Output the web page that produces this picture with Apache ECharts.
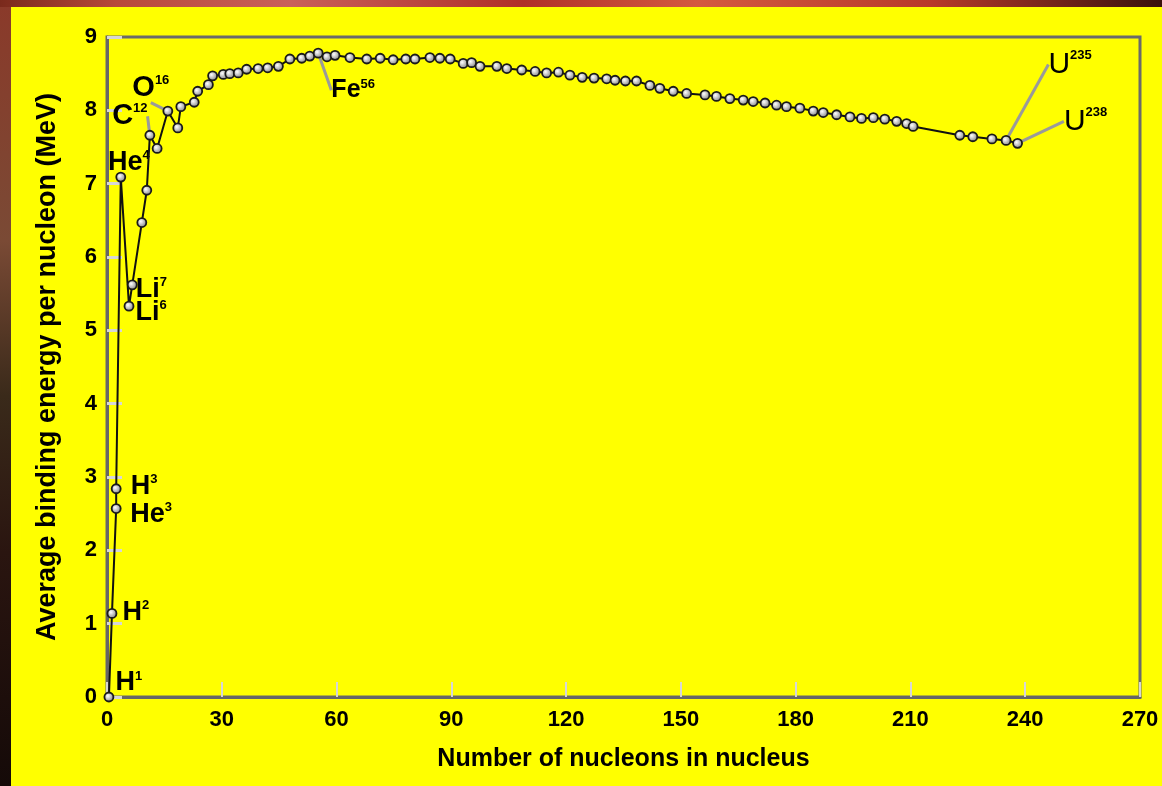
<!DOCTYPE html>
<html>
<head>
<meta charset="utf-8">
<title>Binding energy per nucleon</title>
<script src="https://cdn.jsdelivr.net/npm/echarts@6/dist/echarts.min.js"></script>
<style>
    html, body {
        margin: 0;
        padding: 0;
        width: 1162px;
        height: 786px;
        overflow: hidden;
        background: #140a08;
    }
    #topband {
        position: absolute;
        left: 0;
        top: 0;
        width: 1162px;
        height: 7px;
        background: linear-gradient(to right, #7a2a1c 0%, #b84a3a 10%, #c9605a 25%, #b03028 45%, #d45a40 60%, #b83a2a 80%, #3a120c 100%);
    }
    #leftband {
        position: absolute;
        left: 0;
        top: 7px;
        width: 11px;
        height: 779px;
        background: linear-gradient(to bottom, #8a3a2a 0%, #7a4a35 30%, #3a2a1a 50%, #2a1510 70%, #150a08 100%);
    }
    #chart {
        position: absolute;
        left: 11px;
        top: 7px;
        width: 1151px;
        height: 779px;
    }
</style>
</head>
<body>
<div id="topband"></div>
<div id="leftband"></div>
<div id="chart"></div>
<script>
// mass number A and average binding energy per nucleon (MeV)
var nucA = [0.5, 1.3, 2.4, 2.4, 3.6, 5.75, 6.6, 9.1, 10.4, 11.2, 13.1, 15.9, 18.5, 19.3,
    22.8, 23.7, 26.5, 27.6, 30.4, 32.1, 34.3, 36.5, 39.5, 42, 44.8, 47.8, 50.9, 53,
    55.2, 57.5, 59.6, 63.5, 67.9, 71.4, 74.8, 78.1, 80.5, 84.4, 87, 89.7, 93.1, 95.3,
    97.5, 101.9, 104.5, 108.4, 111.9, 114.9, 118, 121, 124.2, 127.3, 130.6, 132.8,
    135.5, 138.4, 141.9, 144.5, 148, 151.5, 156.3, 159.3, 162.8, 166.3, 168.9, 172,
    175, 177.6, 181.1, 184.6, 187.2, 190.7, 194.2, 197.2, 200.3, 203.3, 206.4, 209,
    210.7, 222.9, 226.3, 231.3, 235, 238];
var nucE = [0, 1.14, 2.57, 2.84, 7.09, 5.33, 5.62, 6.47, 6.91, 7.66, 7.48, 7.99, 7.76, 8.05,
    8.11, 8.26, 8.35, 8.47, 8.49, 8.50, 8.51, 8.56, 8.57, 8.58, 8.60, 8.70, 8.71, 8.74,
    8.78, 8.73, 8.75, 8.72, 8.70, 8.71, 8.69, 8.70, 8.70, 8.72, 8.71, 8.70, 8.64, 8.65,
    8.60, 8.60, 8.57, 8.55, 8.53, 8.51, 8.52, 8.48, 8.45, 8.44, 8.43, 8.41,
    8.40, 8.40, 8.34, 8.30, 8.26, 8.23, 8.21, 8.19, 8.16, 8.14, 8.12, 8.10,
    8.07, 8.05, 8.03, 7.99, 7.97, 7.94, 7.91, 7.89, 7.90, 7.88, 7.85, 7.82,
    7.78, 7.66, 7.64, 7.61, 7.59, 7.55];

// labelled nuclides
var annoText = ['{b|H}{s|1}', '{b|H}{s|2}', '{b|H}{s|3}', '{b|He}{s|3}', '{b|He}{s|4}',
    '{b|Li}{s|7}', '{b|Li}{s|6}', '{c|C}{s|12}', '{c|O}{s|16}', '{f|Fe}{s|56}',
    '{u|U}{s|235}', '{u|U}{s|238}'];
var annoA = [0.5, 1.3, 2.4, 2.4, 3.6, 6.6, 5.75, 11.2, 15.9, 55.2, 235, 238];
var annoE = [0, 1.14, 2.84, 2.57, 7.09, 5.62, 5.33, 7.66, 7.99, 8.78, 7.59, 7.55];
var annoLeader = [false, false, false, false, false, false, false, true, true, true, true, true];
// label offsets from the point, px
var annoShift = [[20, -14], [24, -1], [28, -2], [35, 6], [8, -15], [19, 5], [22, 6],
    [-20, -19], [-17, -23], [35, 37], [64, -76], [68, -22]];

var xTicks = {min: 0, max: 270, interval: 30};
var yTicks = {min: 0, max: 9, interval: 1};

var curve = [];
for (var i = 0; i < nucA.length; i++) {
    curve.push([nucA[i], nucE[i]]);
}
var annoData = [];
for (var j = 0; j < annoA.length; j++) {
    annoData.push({
        value: [annoA[j], annoE[j]],
        name: annoText[j],
        labelLine: {show: annoLeader[j]}
    });
}

var font = 'Liberation Sans, Arial, sans-serif';

var option = {
    backgroundColor: '#ffff00',
    animation: false,
    grid: {
        left: 96,
        top: 30,
        right: 22,
        bottom: 89,
        show: true,
        borderColor: '#6a6a6a',
        borderWidth: 3,
        backgroundColor: 'transparent'
    },
    xAxis: {
        type: 'value',
        min: xTicks.min,
        max: xTicks.max,
        interval: xTicks.interval,
        name: 'Number of nucleons in nucleus',
        nameLocation: 'middle',
        nameGap: 50,
        nameTextStyle: {
            color: '#000',
            fontFamily: font,
            fontWeight: 'bold',
            fontSize: 25
        },
        axisLine: {lineStyle: {color: '#666', width: 3}},
        axisTick: {inside: true, length: 15, lineStyle: {color: '#d6d6d6', width: 2}},
        splitLine: {show: false},
        axisLabel: {
            color: '#000',
            fontFamily: font,
            fontWeight: 'bold',
            fontSize: 22,
            margin: 12
        }
    },
    yAxis: {
        type: 'value',
        min: yTicks.min,
        max: yTicks.max,
        interval: yTicks.interval,
        name: 'Average binding energy per nucleon (MeV)',
        nameLocation: 'middle',
        nameGap: 46,
        nameTextStyle: {
            color: '#000',
            fontFamily: font,
            fontWeight: 'bold',
            fontSize: 27
        },
        axisLine: {lineStyle: {color: '#666', width: 3}},
        axisTick: {inside: true, length: 15, lineStyle: {color: '#d6d6d6', width: 3}},
        splitLine: {show: false},
        axisLabel: {
            color: '#000',
            fontFamily: font,
            fontWeight: 'bold',
            fontSize: 22,
            margin: 10
        }
    },
    series: [{
        name: 'binding energy',
        type: 'line',
        data: curve,
        symbol: 'circle',
        symbolSize: 9,
        lineStyle: {color: '#111', width: 2},
        itemStyle: {
            color: {
                type: 'radial', x: 0.4, y: 0.4, r: 0.6,
                colorStops: [{offset: 0, color: '#ffffff'}, {offset: 1, color: '#808080'}]
            },
            borderColor: '#1a1a1a',
            borderWidth: 1.8
        },
        z: 3
    }, {
        name: 'labels',
        type: 'scatter',
        data: annoData,
        symbolSize: 2,
        itemStyle: {color: 'rgba(0,0,0,0)', opacity: 1},
        silent: true,
        z: 2,
        label: {
            show: true,
            position: 'inside',
            align: 'center',
            verticalAlign: 'middle',
            color: '#000',
            opacity: 1,
            textBorderWidth: 0,
            formatter: function (p) {
                return p.name;
            },
            rich: {
                b: {fontFamily: font, fontWeight: 'bold', fontSize: 27, color: '#000'},
                c: {fontFamily: font, fontWeight: 'bold', fontSize: 29, color: '#000'},
                f: {fontFamily: font, fontWeight: 'bold', fontSize: 25, color: '#000'},
                u: {fontFamily: font, fontWeight: 'normal', fontSize: 30, color: '#000'},
                s: {fontFamily: font, fontWeight: 'bold', fontSize: 13, color: '#000', verticalAlign: 'top'}
            }
        },
        labelLine: {
            show: true,
            lineStyle: {color: '#9a9a9a', width: 3, opacity: 1}
        },
        labelLayout: function (p) {
            var d = annoShift[p.dataIndex];
            return {dx: d[0], dy: d[1]};
        }
    }]
};

//初始化echarts实例
var myChart = echarts.init(document.getElementById('chart'));
myChart.setOption(option);
</script>
</body>
</html>
